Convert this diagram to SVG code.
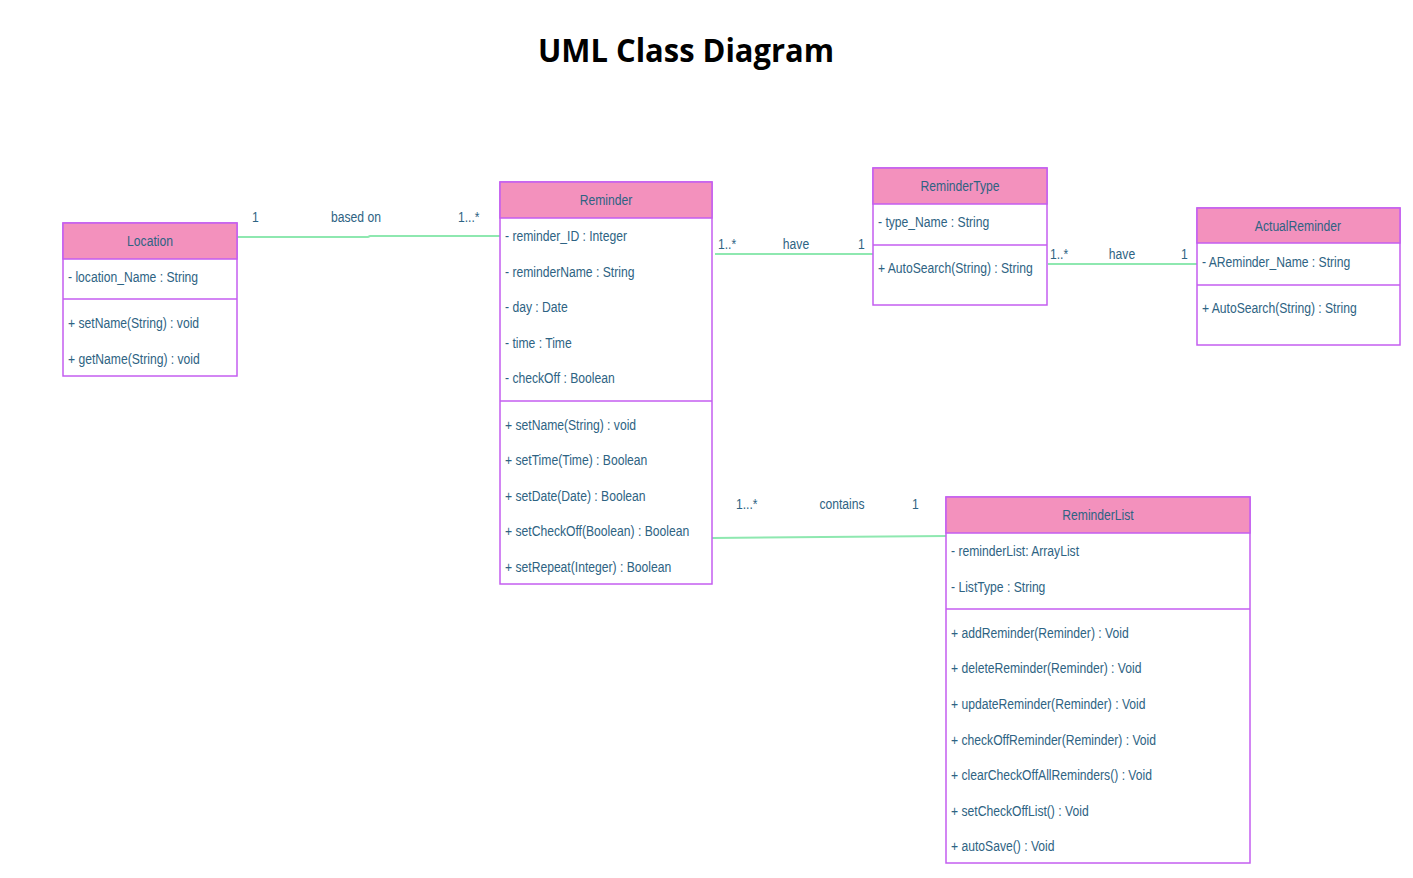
<svg xmlns="http://www.w3.org/2000/svg" width="1413" height="878" viewBox="0 0 1413 878">
<style>
.bg{fill:#ffffff}
.box{fill:#ffffff;stroke:#c45ef0;stroke-width:1.5}
.hdr{fill:#f391bd;stroke:#c45ef0;stroke-width:1.5}
.sep{stroke:#c45ef0;stroke-width:1.5}
.t{font-family:"Liberation Sans",Arial,sans-serif;font-size:15px;fill:#2e6383}
.c{text-anchor:middle}
.ln{stroke:#8ee8b0;stroke-width:2;fill:none}
.title{font-family:"Open Sans","Liberation Sans",Arial,sans-serif;font-weight:bold;font-size:33px;fill:#000000;text-anchor:middle}
</style>
<rect class="bg" x="0" y="0" width="1413" height="878"/>
<text class="title" x="686" y="62" textLength="296" lengthAdjust="spacingAndGlyphs">UML Class Diagram</text>

<g id="connectors">
<polyline class="ln" points="237,237 368,237 370,236 500,236"/>
<line class="ln" x1="715" y1="254" x2="873" y2="254"/>
<line class="ln" x1="1048" y1="264" x2="1197" y2="264"/>
<line class="ln" x1="712" y1="538" x2="946" y2="536"/>
<text class="t" transform="translate(252,222) scale(0.81,1)">1</text>
<text class="t c" transform="translate(356,222) scale(0.81,1)">based on</text>
<text class="t" transform="translate(458,222) scale(0.81,1)">1...*</text>
<text class="t" transform="translate(718,249) scale(0.81,1)">1..*</text>
<text class="t c" transform="translate(796,249) scale(0.81,1)">have</text>
<text class="t" transform="translate(858,249) scale(0.81,1)">1</text>
<text class="t" transform="translate(1050,259) scale(0.81,1)">1..*</text>
<text class="t c" transform="translate(1122,259) scale(0.81,1)">have</text>
<text class="t" transform="translate(1181,259) scale(0.81,1)">1</text>
<text class="t" transform="translate(736,509) scale(0.81,1)">1...*</text>
<text class="t c" transform="translate(842,509) scale(0.81,1)">contains</text>
<text class="t" transform="translate(912,509) scale(0.81,1)">1</text>
</g>

<g id="Location">
<rect class="box" x="63" y="223" width="174" height="153"/>
<rect class="hdr" x="63" y="223" width="174" height="36"/>
<line class="sep" x1="63" y1="299" x2="237" y2="299"/>
<text class="t c" transform="translate(150,246) scale(0.81,1)">Location</text>
<text class="t" transform="translate(68,282) scale(0.81,1)">- location_Name : String</text>
<text class="t" transform="translate(68,328) scale(0.81,1)">+ setName(String) : void</text>
<text class="t" transform="translate(68,364) scale(0.81,1)">+ getName(String) : void</text>
</g>

<g id="Reminder">
<rect class="box" x="500" y="182" width="212" height="402"/>
<rect class="hdr" x="500" y="182" width="212" height="36"/>
<line class="sep" x1="500" y1="401" x2="712" y2="401"/>
<text class="t c" transform="translate(606,205) scale(0.81,1)">Reminder</text>
<text class="t" transform="translate(505,241) scale(0.81,1)">- reminder_ID : Integer</text>
<text class="t" transform="translate(505,277) scale(0.81,1)">- reminderName : String</text>
<text class="t" transform="translate(505,312) scale(0.81,1)">- day : Date</text>
<text class="t" transform="translate(505,348) scale(0.81,1)">- time : Time</text>
<text class="t" transform="translate(505,383) scale(0.81,1)">- checkOff : Boolean</text>
<text class="t" transform="translate(505,430) scale(0.81,1)">+ setName(String) : void</text>
<text class="t" transform="translate(505,465) scale(0.81,1)">+ setTime(Time) : Boolean</text>
<text class="t" transform="translate(505,501) scale(0.81,1)">+ setDate(Date) : Boolean</text>
<text class="t" transform="translate(505,536) scale(0.81,1)">+ setCheckOff(Boolean) : Boolean</text>
<text class="t" transform="translate(505,572) scale(0.81,1)">+ setRepeat(Integer) : Boolean</text>
</g>

<g id="ReminderType">
<rect class="box" x="873" y="168" width="174" height="137"/>
<rect class="hdr" x="873" y="168" width="174" height="36"/>
<line class="sep" x1="873" y1="245" x2="1047" y2="245"/>
<text class="t c" transform="translate(960,191) scale(0.81,1)">ReminderType</text>
<text class="t" transform="translate(878,227) scale(0.81,1)">- type_Name : String</text>
<text class="t" transform="translate(878,273) scale(0.81,1)">+ AutoSearch(String) : String</text>
</g>

<g id="ActualReminder">
<rect class="box" x="1197" y="208" width="203" height="137"/>
<rect class="hdr" x="1197" y="208" width="203" height="35"/>
<line class="sep" x1="1197" y1="285" x2="1400" y2="285"/>
<text class="t c" transform="translate(1298,231) scale(0.81,1)">ActualReminder</text>
<text class="t" transform="translate(1202,267) scale(0.81,1)">- AReminder_Name : String</text>
<text class="t" transform="translate(1202,313) scale(0.81,1)">+ AutoSearch(String) : String</text>
</g>

<g id="ReminderList">
<rect class="box" x="946" y="497" width="304" height="366"/>
<rect class="hdr" x="946" y="497" width="304" height="36"/>
<line class="sep" x1="946" y1="609" x2="1250" y2="609"/>
<text class="t c" transform="translate(1098,520) scale(0.81,1)">ReminderList</text>
<text class="t" transform="translate(951,556) scale(0.81,1)">- reminderList: ArrayList</text>
<text class="t" transform="translate(951,592) scale(0.81,1)">- ListType : String</text>
<text class="t" transform="translate(951,638) scale(0.81,1)">+ addReminder(Reminder) : Void</text>
<text class="t" transform="translate(951,673) scale(0.81,1)">+ deleteReminder(Reminder) : Void</text>
<text class="t" transform="translate(951,709) scale(0.81,1)">+ updateReminder(Reminder) : Void</text>
<text class="t" transform="translate(951,745) scale(0.81,1)">+ checkOffReminder(Reminder) : Void</text>
<text class="t" transform="translate(951,780) scale(0.81,1)">+ clearCheckOffAllReminders() : Void</text>
<text class="t" transform="translate(951,816) scale(0.81,1)">+ setCheckOffList() : Void</text>
<text class="t" transform="translate(951,851) scale(0.81,1)">+ autoSave() : Void</text>
</g>
</svg>
